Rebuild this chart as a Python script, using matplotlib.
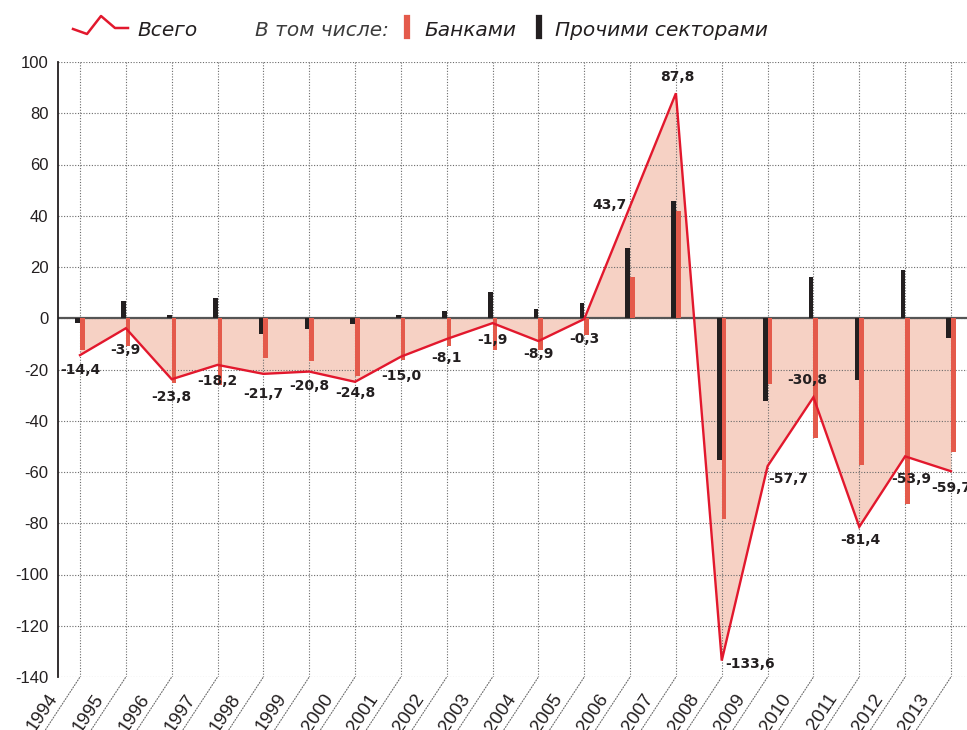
import matplotlib
matplotlib.use("Agg")
import matplotlib.pyplot as plt
from matplotlib.lines import Line2D
import numpy as np

# данные: чистый ввоз/вывоз капитала, млрд долл.
years = [str(y) for y in range(1994, 2014)]
total = [-14.4, -3.9, -23.8, -18.2, -21.7, -20.8, -24.8, -15.0, -8.1, -1.9,
         -8.9, -0.3, 43.7, 87.8, -133.6, -57.7, -30.8, -81.4, -53.9, -59.7]
banks = [-12.4, -10.8, -25.2, -26.1, -15.7, -16.6, -22.6, -16.3, -10.8, -12.3,
         -12.4, -6.4, 16.2, 41.9, -78.3, -25.6, -46.8, -57.4, -72.6, -52.1]
others = [-2.0, 6.9, 1.4, 7.9, -6.0, -4.2, -2.2, 1.3, 2.7, 10.4,
          3.5, 6.1, 27.5, 45.9, -55.3, -32.1, 16.0, -24.0, 18.7, -7.6]
yticks = list(range(-140, 101, 20))

# смещения подписей значений (пиксели)
label_offsets = [(0, -15), (0, -22), (0, -18), (0, -16), (0, -20), (0, -14),
                 (0, -11), (0, -19), (0, -19), (0, -17), (0, -13), (0, -20),
                 (-21, 1), (1, 16), (28, -3), (21, -13), (-6, 17), (1, -13),
                 (6, -23), (0, -17)]

RED_LINE = "#e2182d"
RED_BAR = "#e45a4b"
BLACK = "#231f20"
FILL = "#f6d1c4"

plt.rcParams["axes.unicode_minus"] = False
W, H = 967, 730
fig = plt.figure(figsize=(W / 100, H / 100), dpi=100)
ax = fig.add_axes([58 / W, 1 - 677 / H, (W - 58) / W, (677 - 62) / H])

x = np.arange(len(years))
ax.fill_between(x, total, 0, color=FILL, lw=0, zorder=1)
ax.grid(True, ls=(0, (1, 1.5)), color="#6b6b6b", lw=0.8, zorder=2)
ax.set_axisbelow(False)
ax.axhline(0, color="#555555", lw=1.6, zorder=3)
ax.bar(x - 0.05, others, width=0.1, color=BLACK, zorder=4)
ax.bar(x + 0.05, banks, width=0.1, color=RED_BAR, zorder=4)
ax.plot(x, total, color=RED_LINE, lw=1.7, zorder=5, solid_joinstyle="miter")

for i, v in enumerate(total):
    dx, dy = label_offsets[i]
    ax.annotate(f"{v:.1f}".replace(".", ","), (i, v), xytext=(dx, dy),
                textcoords="offset pixels", ha="center", va="center",
                fontsize=10, fontweight="bold", color=BLACK, zorder=6,
                annotation_clip=False)

ax.set_xlim(-0.48, 19.35)
ax.set_ylim(-140, 100)
ax.set_yticks(yticks)
ax.set_yticklabels([str(t) for t in yticks], fontsize=12,
                   family=["Liberation Sans", "DejaVu Sans"], color=BLACK)
ax.set_xticks(x)
ax.set_xticklabels([])
ax.tick_params(length=0, pad=7)
for s in ["top", "right", "bottom"]:
    ax.spines[s].set_visible(False)
ax.spines["left"].set_color(BLACK)
ax.spines["left"].set_linewidth(1.3)
ax.spines["left"].set_zorder(6)

# подписи годов с наклонными выносками
for i, yr in enumerate(years):
    ax.annotate("", xy=(i, -140), xytext=(-36, -55), textcoords="offset pixels",
                arrowprops=dict(arrowstyle="-", ls=(0, (1, 1.5)), lw=0.8,
                                color="#6b6b6b", shrinkA=0, shrinkB=0),
                annotation_clip=False)
    ax.annotate(yr, (i, -140), xytext=(-22, -21), textcoords="offset pixels",
                ha="right", va="baseline", rotation=56, rotation_mode="anchor",
                fontsize=13.5, family=["Liberation Sans", "DejaVu Sans"],
                color=BLACK, annotation_clip=False)

# легенда
def fx(px):
    return px / W


def fy(py):
    return 1 - py / H


zig_x = [73, 87, 101, 115, 128]
zig_y = [29, 34, 16, 28, 28]
fig.add_artist(Line2D([fx(p) for p in zig_x], [fy(p) for p in zig_y],
                      color=RED_LINE, lw=1.8))
fig.add_artist(Line2D([fx(407), fx(407)], [fy(18), fy(36)], color=RED_BAR, lw=4.5))
fig.add_artist(Line2D([fx(539), fx(539)], [fy(18), fy(36)], color=BLACK, lw=4.5))
leg_font = dict(fontsize=14.5, style="italic", va="baseline", ha="left")
fig.text(fx(137), fy(36), "Всего", color=BLACK, **leg_font)
fig.text(fx(255), fy(36), "В том числе:", color="#3c3c3c", **leg_font)
fig.text(fx(424), fy(36), "Банками", color=BLACK, **leg_font)
fig.text(fx(555), fy(36), "Прочими секторами", color=BLACK, **leg_font)

fig.savefig("out.png", dpi=100)
